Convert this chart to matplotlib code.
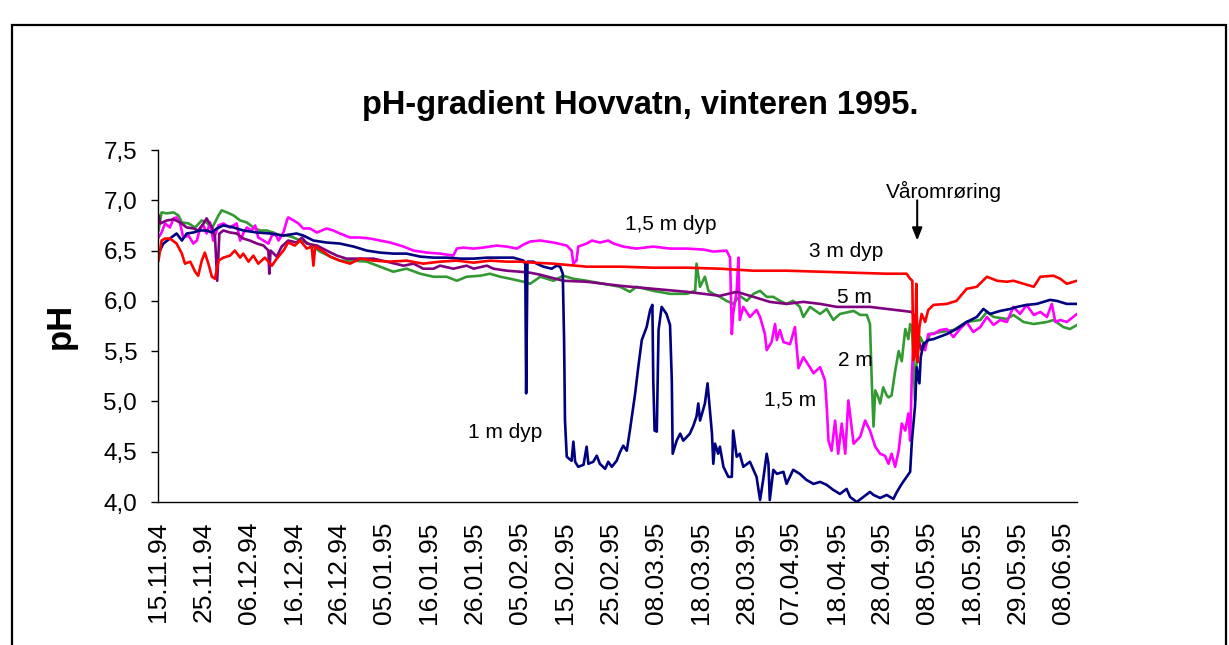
import matplotlib
matplotlib.use("Agg")
import matplotlib.pyplot as plt
from matplotlib.patches import Rectangle
from matplotlib.ticker import FuncFormatter

plt.rcParams['font.family'] = ['Liberation Sans', 'DejaVu Sans']

# Tick labels of the date axis (every ~10.25 days from 15.11.94)
date_labels = ["15.11.94", "25.11.94", "06.12.94", "16.12.94", "26.12.94",
               "05.01.95", "16.01.95", "26.01.95", "05.02.95", "15.02.95",
               "25.02.95", "08.03.95", "18.03.95", "28.03.95", "07.04.95",
               "18.04.95", "28.04.95", "08.05.95", "18.05.95", "29.05.95",
               "08.06.95"]
label_step = 10.25   # days between labels
last_day = 208.2

# Series: (day since 15.11.94, pH)
ph_1m = [(0.1, 6.47), (1.2, 6.57), (2.7, 6.62), (4.2, 6.67), (5.4, 6.60), (6.5, 6.67),
         (8.0, 6.68), (9.5, 6.70), (11.0, 6.70), (12.2, 6.68), (13.3, 6.72), (14.8, 6.75),
         (17.1, 6.73), (19.3, 6.70), (22.4, 6.68), (25.4, 6.67), (28.4, 6.65), (31.4, 6.67),
         (32.9, 6.65), (35.2, 6.60), (38.2, 6.58), (41.2, 6.57), (44.3, 6.54), (47.3, 6.50),
         (50.3, 6.48), (53.3, 6.47), (56.3, 6.47), (59.4, 6.44), (62.4, 6.43), (65.4, 6.43),
         (68.4, 6.42), (71.5, 6.42), (74.5, 6.43), (77.5, 6.43), (80.5, 6.43), (82.8, 6.40),
         (83.2, 6.37), (83.4, 5.08), (83.7, 6.39), (85.0, 6.39), (85.8, 6.37), (87.3, 6.34),
         (89.2, 6.32), (90.3, 6.35), (91.1, 6.34), (91.7, 6.27), (92.0, 5.60), (92.2, 4.81),
         (92.6, 4.45), (93.7, 4.41), (94.1, 4.60), (94.5, 4.40), (95.2, 4.35), (96.4, 4.37),
         (97.1, 4.55), (97.5, 4.38), (98.6, 4.40), (99.4, 4.46), (100.1, 4.38), (101.3, 4.33),
         (102.0, 4.40), (102.8, 4.35), (103.9, 4.41), (104.7, 4.50), (105.4, 4.56), (106.2, 4.51),
         (106.9, 4.71), (108.1, 5.08), (108.8, 5.34), (109.6, 5.61), (110.7, 5.74), (111.5, 5.91),
         (112.0, 5.96), (112.2, 5.21), (112.5, 4.71), (113.0, 4.70), (113.4, 5.71), (114.1, 5.94),
         (115.2, 5.87), (116.0, 5.76), (116.4, 5.21), (116.6, 4.48), (117.5, 4.61), (118.3, 4.68),
         (119.0, 4.61), (120.5, 4.68), (121.3, 4.76), (122.0, 4.85), (122.4, 4.98), (122.8, 4.81),
         (123.9, 4.98), (124.5, 5.18), (125.1, 4.88), (125.5, 4.68), (125.8, 4.38), (126.2, 4.58),
         (126.9, 4.48), (127.3, 4.55), (128.1, 4.35), (129.2, 4.25), (130.0, 4.25), (130.3, 4.71),
         (131.1, 4.45), (131.8, 4.48), (132.6, 4.35), (134.1, 4.40), (135.6, 4.25), (136.4, 4.02),
         (137.1, 4.22), (137.9, 4.48), (138.3, 4.38), (138.6, 4.02), (139.4, 4.32), (140.2, 4.28),
         (141.7, 4.30), (142.4, 4.18), (143.9, 4.32), (145.4, 4.28), (146.9, 4.22), (148.5, 4.18),
         (150.0, 4.20), (151.5, 4.17), (153.0, 4.12), (154.5, 4.08), (156.0, 4.13), (156.8, 4.05),
         (158.3, 4.00), (159.8, 4.05), (161.3, 4.10), (162.1, 4.07), (163.6, 4.04), (165.1, 4.07),
         (166.6, 4.03), (167.4, 4.10), (168.5, 4.18), (169.6, 4.25), (170.4, 4.30), (170.8, 4.61),
         (171.5, 4.95), (171.9, 5.34), (172.5, 5.18), (172.8, 5.44), (173.4, 5.57), (174.5, 5.61),
         (175.7, 5.62), (178.7, 5.67), (180.9, 5.72), (183.2, 5.79), (185.5, 5.84), (187.0, 5.92),
         (188.5, 5.87), (190.8, 5.90), (193.1, 5.92), (194.6, 5.94), (196.8, 5.96), (199.1, 5.97),
         (202.1, 6.01), (203.6, 6.00), (205.9, 5.97), (208.2, 5.97)]

ph_15m = [(0.1, 6.63), (0.8, 6.68), (1.6, 6.77), (2.7, 6.73), (3.5, 6.82), (4.2, 6.83),
          (5.0, 6.77), (5.7, 6.63), (6.9, 6.65), (8.0, 6.57), (8.8, 6.60), (9.5, 6.72),
          (10.3, 6.75), (11.0, 6.67), (11.8, 6.78), (12.5, 6.60), (13.7, 6.75), (14.8, 6.77),
          (16.3, 6.73), (17.8, 6.77), (18.6, 6.60), (19.3, 6.67), (20.1, 6.73), (21.2, 6.70),
          (22.0, 6.75), (22.7, 6.63), (23.9, 6.60), (25.0, 6.57), (25.8, 6.65), (26.5, 6.67),
          (27.3, 6.60), (28.4, 6.68), (29.2, 6.80), (29.5, 6.83), (30.7, 6.80), (31.8, 6.77),
          (32.9, 6.72), (34.4, 6.72), (36.0, 6.68), (38.2, 6.72), (39.7, 6.70), (41.2, 6.67),
          (43.5, 6.63), (45.8, 6.63), (48.0, 6.62), (50.3, 6.60), (52.6, 6.58), (55.6, 6.54),
          (57.9, 6.50), (60.9, 6.48), (63.9, 6.47), (66.9, 6.45), (67.7, 6.52), (69.2, 6.53),
          (71.5, 6.52), (73.7, 6.53), (76.7, 6.55), (79.0, 6.54), (81.3, 6.52), (82.8, 6.56),
          (84.3, 6.59), (86.6, 6.60), (89.6, 6.58), (92.6, 6.55), (93.7, 6.50), (94.1, 6.37),
          (94.8, 6.40), (95.2, 6.54), (97.1, 6.57), (98.3, 6.60), (100.1, 6.58), (102.0, 6.60),
          (103.2, 6.57), (105.4, 6.54), (108.4, 6.52), (112.2, 6.54), (116.0, 6.52), (119.8, 6.52),
          (123.6, 6.51), (125.8, 6.49), (128.8, 6.50), (129.6, 6.43), (130.0, 5.67), (130.3, 5.87),
          (131.1, 6.10), (131.5, 6.43), (131.8, 5.81), (132.6, 5.94), (134.1, 5.84), (135.6, 5.91),
          (136.4, 5.84), (137.5, 5.67), (137.9, 5.51), (139.0, 5.59), (139.8, 5.77), (140.2, 5.61),
          (140.9, 5.71), (141.7, 5.59), (143.2, 5.57), (144.3, 5.74), (145.1, 5.33), (146.2, 5.44),
          (147.7, 5.34), (148.5, 5.28), (150.0, 5.34), (151.1, 5.21), (151.5, 4.95), (151.9, 4.61),
          (152.6, 4.51), (153.4, 4.81), (154.1, 4.48), (154.9, 4.78), (155.7, 4.48), (156.4, 5.01),
          (157.6, 4.58), (159.1, 4.65), (160.2, 4.81), (161.3, 4.71), (162.5, 4.55), (163.6, 4.48),
          (164.7, 4.46), (165.5, 4.38), (166.2, 4.48), (167.0, 4.35), (167.8, 4.51), (168.5, 4.78),
          (169.3, 4.71), (170.0, 4.88), (170.4, 4.61), (170.8, 5.28), (171.1, 5.54), (171.9, 5.61),
          (173.0, 5.54), (173.8, 5.51), (174.5, 5.67), (175.7, 5.67), (177.2, 5.71), (178.7, 5.72),
          (180.2, 5.64), (181.7, 5.72), (183.2, 5.79), (184.7, 5.69), (186.3, 5.74), (187.8, 5.84),
          (189.3, 5.76), (190.8, 5.81), (192.3, 5.79), (193.8, 5.94), (195.3, 5.87), (196.8, 5.96),
          (198.4, 5.86), (199.9, 5.89), (201.4, 5.84), (202.5, 5.97), (203.3, 5.79), (204.4, 5.81),
          (205.9, 5.79), (208.2, 5.87)]

ph_2m = [(0.1, 6.70), (0.8, 6.88), (2.0, 6.87), (3.5, 6.88), (4.6, 6.85), (5.4, 6.78),
         (6.9, 6.77), (8.4, 6.73), (9.9, 6.80), (11.0, 6.78), (12.2, 6.72), (13.7, 6.85),
         (14.4, 6.90), (15.6, 6.88), (17.1, 6.85), (18.6, 6.80), (20.1, 6.78), (21.6, 6.73),
         (23.1, 6.70), (24.6, 6.70), (26.1, 6.68), (27.6, 6.65), (29.2, 6.65), (30.7, 6.63),
         (32.2, 6.60), (33.7, 6.58), (35.2, 6.54), (36.7, 6.49), (39.0, 6.44), (41.2, 6.40),
         (44.3, 6.40), (47.3, 6.39), (50.3, 6.34), (53.3, 6.29), (56.3, 6.32), (59.4, 6.27),
         (62.4, 6.24), (65.4, 6.24), (67.7, 6.20), (69.9, 6.24), (73.0, 6.25), (75.2, 6.27),
         (77.5, 6.24), (79.8, 6.22), (82.8, 6.19), (84.3, 6.17), (86.6, 6.24), (89.6, 6.20),
         (91.8, 6.25), (94.1, 6.22), (97.1, 6.20), (100.9, 6.17), (104.7, 6.14), (106.9, 6.09),
         (108.4, 6.14), (112.2, 6.10), (116.0, 6.07), (119.8, 6.07), (121.7, 6.10), (122.0, 6.37),
         (122.8, 6.14), (123.9, 6.24), (124.7, 6.10), (125.8, 6.07), (127.3, 6.04), (128.8, 6.00),
         (130.3, 5.97), (131.8, 6.05), (133.4, 6.00), (134.9, 6.07), (136.4, 6.10), (137.9, 6.04),
         (139.4, 6.04), (140.9, 6.00), (142.4, 5.97), (143.9, 6.00), (145.4, 5.94), (146.2, 5.84),
         (147.7, 5.94), (150.0, 5.87), (151.5, 5.92), (153.0, 5.81), (154.5, 5.87), (157.6, 5.90),
         (159.1, 5.86), (160.6, 5.86), (161.3, 5.77), (161.7, 5.21), (162.1, 4.75), (162.5, 5.11),
         (163.2, 5.04), (163.6, 4.98), (164.3, 5.14), (165.1, 5.06), (165.5, 5.04), (166.2, 5.06),
         (167.0, 5.30), (167.8, 5.50), (168.5, 5.40), (169.3, 5.72), (170.0, 5.62), (170.4, 5.77),
         (170.8, 5.74), (171.1, 5.47), (171.5, 5.01), (171.9, 5.44), (172.7, 5.64), (173.8, 5.54),
         (174.9, 5.67), (177.2, 5.69), (180.2, 5.71), (183.2, 5.79), (186.3, 5.81), (187.8, 5.89),
         (189.3, 5.84), (192.3, 5.82), (193.8, 5.86), (196.1, 5.79), (198.4, 5.77), (201.4, 5.79),
         (202.9, 5.81), (205.1, 5.74), (206.6, 5.72), (208.2, 5.76)]

ph_3m = [(0.1, 6.40), (0.8, 6.60), (1.6, 6.62), (2.7, 6.62), (4.2, 6.57), (5.4, 6.47),
         (6.1, 6.37), (7.3, 6.39), (8.4, 6.29), (9.1, 6.25), (9.9, 6.40), (10.6, 6.48),
         (11.4, 6.37), (12.2, 6.24), (12.9, 6.22), (13.7, 6.40), (14.8, 6.43), (16.3, 6.45),
         (17.4, 6.50), (18.6, 6.43), (19.3, 6.47), (20.5, 6.39), (21.6, 6.45), (22.7, 6.37),
         (24.2, 6.43), (25.8, 6.35), (26.9, 6.42), (28.4, 6.50), (29.5, 6.58), (31.0, 6.55),
         (32.2, 6.60), (33.7, 6.52), (34.8, 6.54), (35.2, 6.35), (35.6, 6.54), (37.1, 6.50),
         (39.0, 6.44), (41.2, 6.40), (43.5, 6.37), (45.8, 6.42), (48.8, 6.40), (52.6, 6.39),
         (56.3, 6.40), (60.1, 6.37), (63.9, 6.39), (67.7, 6.40), (71.5, 6.38), (75.2, 6.40),
         (79.0, 6.39), (82.0, 6.39), (85.0, 6.38), (89.6, 6.37), (97.1, 6.34), (104.7, 6.34),
         (112.2, 6.33), (119.8, 6.33), (127.3, 6.32), (134.9, 6.30), (142.4, 6.30), (150.0, 6.29),
         (157.6, 6.28), (165.1, 6.27), (169.6, 6.27), (170.4, 6.22), (170.9, 6.20), (171.1, 5.41),
         (171.5, 5.45), (171.8, 6.17), (172.1, 5.39), (172.5, 5.74), (173.0, 5.87), (173.8, 5.79),
         (174.5, 5.91), (175.7, 5.96), (178.7, 5.97), (180.9, 6.00), (183.2, 6.12), (185.5, 6.14),
         (187.8, 6.24), (190.1, 6.20), (192.3, 6.19), (193.8, 6.20), (196.1, 6.17), (198.4, 6.14),
         (199.9, 6.24), (202.9, 6.25), (204.4, 6.22), (205.9, 6.17), (208.2, 6.20)]

ph_5m = [(0.1, 6.85), (0.5, 6.77), (2.0, 6.80), (3.5, 6.81), (5.0, 6.78), (6.5, 6.73),
         (8.0, 6.72), (9.1, 6.70), (10.3, 6.77), (11.0, 6.82), (12.2, 6.73), (12.9, 6.64),
         (13.4, 6.20), (13.9, 6.67), (14.8, 6.70), (16.3, 6.68), (17.8, 6.67), (19.3, 6.62),
         (20.8, 6.60), (22.4, 6.57), (23.9, 6.55), (25.0, 6.50), (25.2, 6.27), (25.5, 6.50),
         (26.9, 6.44), (28.0, 6.54), (29.5, 6.60), (31.4, 6.58), (32.6, 6.63), (33.7, 6.57),
         (36.0, 6.55), (38.2, 6.50), (40.5, 6.45), (42.7, 6.42), (45.8, 6.42), (48.8, 6.42),
         (51.8, 6.39), (55.6, 6.35), (57.9, 6.37), (60.1, 6.32), (62.4, 6.32), (63.9, 6.35),
         (66.9, 6.32), (69.9, 6.35), (71.5, 6.32), (74.5, 6.35), (76.0, 6.32), (79.0, 6.30),
         (82.0, 6.29), (84.3, 6.28), (86.6, 6.26), (91.8, 6.20), (97.1, 6.19), (104.7, 6.15),
         (112.2, 6.12), (119.8, 6.09), (123.6, 6.07), (127.3, 6.05), (131.1, 6.09), (134.9, 6.04),
         (138.6, 5.99), (142.4, 5.97), (146.2, 5.99), (150.0, 5.97), (153.8, 5.94), (157.6, 5.94),
         (161.3, 5.94), (165.1, 5.92), (170.8, 5.89), (171.5, 5.84), (172.0, 5.64), (173.0, 5.51),
         (173.8, 5.57)]

series = [(ph_2m, '#339933'), (ph_15m, '#FF00FF'), (ph_5m, '#800080'),
          (ph_1m, '#000080'), (ph_3m, '#FF0000')]

fig = plt.figure(figsize=(12.29, 6.45), dpi=100)
ax = fig.add_axes([0.1286, 0.2217, 0.7477, 0.5457])

for data, color in series:
    days = [d for d, v in data]
    vals = [v for d, v in data]
    ax.plot(days, vals, color=color, lw=1.9, solid_joinstyle='round')

ax.set_xlim(0, last_day)
ax.set_ylim(4.0, 7.5)
ax.set_yticks([4.0, 4.5, 5.0, 5.5, 6.0, 6.5, 7.0, 7.5])
ax.yaxis.set_major_formatter(FuncFormatter(lambda v, p: ("%.1f" % v).replace('.', ',')))
ax.set_xticks([i * label_step for i in range(len(date_labels))])
ax.set_xticklabels(date_labels, rotation=90, fontsize=19)
ax.tick_params(axis='x', length=0, pad=14)
ax.tick_params(axis='y', length=5, width=1, direction='out', pad=10, labelsize=17.5)

for side in ['top', 'right']:
    ax.spines[side].set_visible(False)
for side in ['left', 'bottom']:
    ax.spines[side].set_linewidth(1)

ax.set_ylabel("pH", fontsize=25, fontweight='bold')
ax.yaxis.set_label_coords(-0.088, 0.5)

fig.text(0.5208, 0.8357, "pH-gradient Hovvatn, vinteren 1995.", ha='center', va='center',
         fontsize=23.5, fontweight='bold')

# Labels on the lines
txt = dict(fontsize=15, ha='center', va='center')
ax.text(116.2, 6.76, "1,5 m dyp", **txt)
ax.text(155.9, 6.49, "3 m dyp", **txt)
ax.text(157.7, 6.03, "5 m", **txt)
ax.text(157.9, 5.41, "2 m", **txt)
ax.text(143.2, 5.01, "1,5 m", **txt)
ax.text(78.6, 4.69, "1 m dyp", **txt)
ax.text(178.1, 7.09, "Våromrøring", **txt)
ax.annotate('', xy=(172.0, 6.60), xytext=(172.0, 7.00),
            arrowprops=dict(arrowstyle='-|>,head_length=0.75,head_width=0.3',
                            color='black', lw=1.5, shrinkA=0, shrinkB=0))

# Frame round the whole chart
fig.patches.append(Rectangle((0.0098, -0.1), 0.9878, 1.0612, transform=fig.transFigure,
                             fill=False, edgecolor='black', lw=1.6))

fig.savefig("out.png", dpi=100)
